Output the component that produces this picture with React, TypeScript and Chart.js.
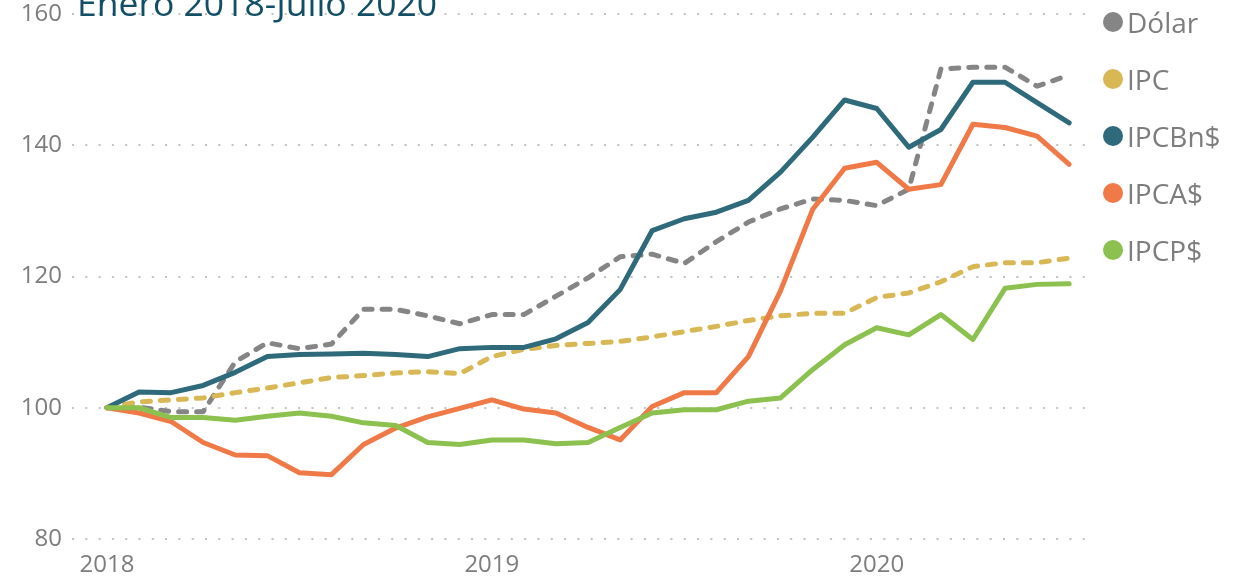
import React, { useEffect, useRef } from 'react';
import { Chart, registerables } from 'chart.js';

Chart.register(...registerables);

// Monthly index, base Enero 2018 = 100
const months = [
  'Ene 2018', 'Feb 2018', 'Mar 2018', 'Abr 2018', 'May 2018', 'Jun 2018',
  'Jul 2018', 'Ago 2018', 'Sep 2018', 'Oct 2018', 'Nov 2018', 'Dic 2018',
  'Ene 2019', 'Feb 2019', 'Mar 2019', 'Abr 2019', 'May 2019', 'Jun 2019',
  'Jul 2019', 'Ago 2019', 'Sep 2019', 'Oct 2019', 'Nov 2019', 'Dic 2019',
  'Ene 2020', 'Feb 2020', 'Mar 2020', 'Abr 2020', 'May 2020', 'Jun 2020',
  'Jul 2020',
];

const yearTickIndex = [0, 12, 24];
const yearTickLabels = ['2018', '2019', '2020'];
const yTicks = [80, 100, 120, 140, 160];

const dolar = [100, 100.1, 99.4, 99.4, 107, 109.9, 109, 109.7, 115, 115, 114, 112.8, 114.2, 114.2, 117, 119.8, 123, 123.4, 122, 125.3, 128.3, 130.3, 131.8, 131.6, 130.8, 133.3, 151.6, 151.9, 151.9, 149, 150.7];
const ipc = [100, 100.9, 101.2, 101.5, 102.3, 103, 103.8, 104.6, 104.9, 105.3, 105.5, 105.2, 107.8, 108.9, 109.5, 109.8, 110.1, 110.8, 111.6, 112.4, 113.3, 114, 114.4, 114.4, 116.8, 117.5, 119.2, 121.5, 122.1, 122.1, 122.8];
const ipcBn = [100, 102.4, 102.3, 103.4, 105.4, 107.8, 108.1, 108.2, 108.3, 108.1, 107.8, 109, 109.2, 109.2, 110.5, 113, 118, 127, 128.8, 129.8, 131.6, 135.9, 141.2, 146.9, 145.6, 139.7, 142.4, 149.6, 149.6, 146.5, 143.4];
const ipcA = [100, 99.2, 97.9, 94.7, 92.8, 92.7, 90.1, 89.8, 94.4, 96.9, 98.6, 99.9, 101.2, 99.8, 99.2, 97, 95.1, 100.2, 102.3, 102.3, 107.8, 117.8, 130.2, 136.5, 137.4, 133.3, 134, 143.2, 142.7, 141.4, 137.1];
const ipcP = [100, 100, 98.5, 98.5, 98.1, 98.7, 99.2, 98.7, 97.7, 97.3, 94.7, 94.4, 95.1, 95.1, 94.5, 94.7, 97, 99.2, 99.7, 99.7, 101, 101.5, 105.8, 109.6, 112.2, 111.1, 114.2, 110.4, 118.2, 118.8, 118.9];

const seriesNames = ['Dólar', 'IPC', 'IPCBn$', 'IPCA$', 'IPCP$'];
const seriesData = [dolar, ipc, ipcBn, ipcA, ipcP];
const seriesColors = ['#858585', '#D8B755', '#2F6A7A', '#EF7A47', '#8CC14F'];
const seriesDashed = [true, true, false, false, false];

const titleText = 'Enero 2018-Julio 2020';

const FONT = "'Open Sans', 'Noto Sans', sans-serif";
const AXIS_COLOR = '#7d7d7d';

export default function App() {
  const canvasRef = useRef<HTMLCanvasElement | null>(null);

  useEffect(() => {
    const canvas = canvasRef.current;
    if (!canvas) return;
    const datasets = seriesNames.map((name, i) => ({
      label: name,
      data: seriesData[i].map((v, j) => ({ x: j, y: v })),
      borderColor: seriesColors[i],
      backgroundColor: seriesColors[i],
      borderWidth: 5,
      borderDash: seriesDashed[i] ? [8, 10] : [],
      borderCapStyle: 'round' as const,
      borderJoinStyle: 'round' as const,
      pointRadius: 0,
      pointHoverRadius: 0,
      tension: 0,
      fill: false,
      order: seriesNames.length - i,
    }));

    const chart = new Chart(canvas, {
      type: 'line',
      data: { labels: months, datasets },
      options: {
        animation: false,
        responsive: false,
        devicePixelRatio: 1,
        events: [],
        layout: { padding: { top: 14, right: 150, left: 0, bottom: 0 } },
        plugins: {
          legend: { display: false },
          title: { display: false },
          tooltip: { enabled: false },
        },
        scales: {
          x: {
            type: 'linear',
            min: -1.09,
            max: 30.65,
            afterBuildTicks: (s: any) => {
              s.ticks = yearTickIndex.map((v) => ({ value: v }));
            },
            afterFit: (s: any) => {
              s.height = 38;
              s.paddingLeft = 0;
              s.paddingRight = 0;
            },
            ticks: {
              autoSkip: false,
              maxRotation: 0,
              padding: 12,
              color: AXIS_COLOR,
              font: { family: FONT, size: 24 },
              callback: (v: any) => {
                const k = yearTickIndex.indexOf(Number(v));
                return k >= 0 ? yearTickLabels[k] : '';
              },
            },
            grid: { display: false, drawTicks: false },
            border: { display: false },
          },
          y: {
            min: 80,
            max: 160,
            afterBuildTicks: (s: any) => {
              s.ticks = yTicks.map((v) => ({ value: v }));
            },
            afterFit: (s: any) => {
              s.width = 72;
              s.paddingTop = 0;
              s.paddingBottom = 0;
            },
            ticks: {
              padding: 10,
              color: AXIS_COLOR,
              font: { family: FONT, size: 24 },
            },
            grid: { color: '#c2c2c2', lineWidth: 2, drawTicks: false },
            border: { display: false, dash: [2, 11.3] },
          },
        },
      },
    });
    return () => chart.destroy();
  }, []);

  return (
    <div style={{ position: 'fixed', left: 0, top: 0, width: 1240, height: 577, background: '#fff', overflow: 'hidden' }}>
      <canvas ref={canvasRef} width={1240} height={577} style={{ position: 'absolute', left: 0, top: 0 }} />
      <div
        style={{
          position: 'absolute',
          left: 77,
          top: -15,
          fontFamily: FONT,
          fontSize: 35.5,
          lineHeight: 1,
          color: '#124F66',
          whiteSpace: 'nowrap',
        }}
      >
        {titleText}
      </div>
      {seriesNames.map((name, i) => (
        <div
          key={name}
          style={{
            position: 'absolute',
            left: 1103,
            top: 22 + 57 * i - 17,
            height: 34,
            display: 'flex',
            alignItems: 'center',
            fontFamily: FONT,
            fontSize: 28,
            color: AXIS_COLOR,
            whiteSpace: 'nowrap',
          }}
        >
          <span
            style={{
              display: 'inline-block',
              width: 20,
              height: 20,
              borderRadius: '50%',
              background: seriesColors[i],
              marginRight: 4,
            }}
          />
          <span>{name}</span>
        </div>
      ))}
    </div>
  );
}
